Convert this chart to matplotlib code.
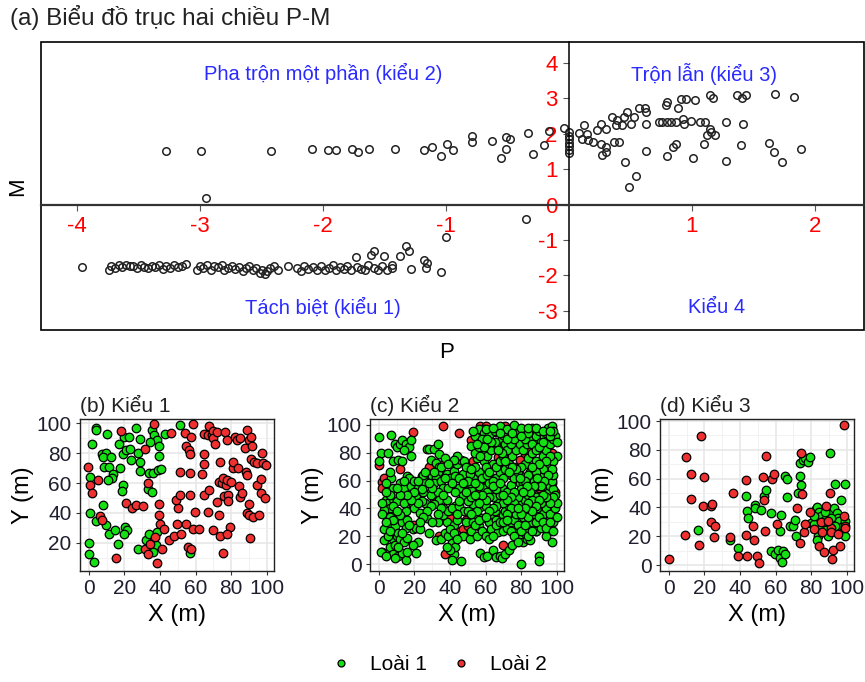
import numpy as np
import matplotlib
matplotlib.use("Agg")
import matplotlib.pyplot as plt
from matplotlib.lines import Line2D
from matplotlib.patches import Rectangle

# ---- panel (a): P-M biplot ----
pm_upper = [(-3.27, 1.52), (-2.99, 1.52), (-2.42, 1.52), (-2.09, 1.58), (-1.96, 1.55),
            (-1.89, 1.55), (-2.95, 0.20), (-1.76, 1.58), (-1.71, 1.49), (-1.62, 1.58),
            (-1.41, 1.58), (-1.18, 1.55), (-1.11, 1.63), (-1.04, 1.38), (-0.99, 1.72),
            (-0.94, 1.55), (-0.79, 1.94), (-0.79, 1.77), (-0.62, 1.80), (-0.55, 1.32),
            (-0.51, 1.92), (-0.51, 1.58), (-0.48, 1.86), (-0.33, 2.03), (-0.29, 1.44),
            (-0.20, 1.69), (-0.16, 2.08), (-0.04, 2.17), (-0.35, -0.42),
            (0.0, 1.45), (0.0, 1.55), (0.0, 1.65), (0.0, 1.75), (0.0, 1.85), (0.0, 1.95),
            (0.0, 2.05)]
pm_right = [(0.08, 2.03), (0.12, 2.25), (0.11, 1.86), (0.15, 2.0), (0.16, 1.83), (0.20, 1.77),
            (0.23, 2.1), (0.26, 2.28), (0.26, 1.72), (0.30, 2.14), (0.30, 1.63), (0.27, 1.41),
            (0.30, 1.49), (0.35, 2.48), (0.37, 1.77), (0.41, 1.77), (0.38, 2.25), (0.39, 2.39),
            (0.43, 2.25), (0.45, 2.48), (0.47, 2.62), (0.46, 1.21), (0.49, 0.51), (0.55, 0.82),
            (0.51, 2.28), (0.53, 2.48), (0.57, 2.73), (0.62, 2.73), (0.63, 2.62), (0.63, 1.52),
            (0.63, 2.28), (0.73, 2.34), (0.76, 2.34), (0.80, 2.34), (0.83, 2.34), (0.87, 2.34),
            (0.79, 2.82), (0.80, 2.90), (0.89, 2.73), (0.91, 2.99), (0.95, 2.99), (1.03, 2.96),
            (0.93, 2.42), (0.94, 2.28), (0.99, 2.37), (0.87, 1.72), (0.85, 1.63), (0.80, 1.38),
            (1.01, 1.32), (1.07, 2.34), (1.11, 2.34), (1.15, 3.10), (1.17, 3.02), (1.15, 2.14),
            (1.16, 2.06), (1.12, 1.97), (1.19, 1.97), (1.10, 1.72), (1.28, 2.34), (1.28, 1.24),
            (1.37, 3.10), (1.41, 3.02), (1.44, 3.10), (1.42, 2.28), (1.40, 1.69), (1.68, 3.13),
            (1.83, 3.04), (1.63, 1.75), (1.67, 1.49), (1.73, 1.21), (1.89, 1.58)]
pm_lower = [(-3.96, -1.75), (-3.74, -1.85), (-3.72, -1.72), (-3.69, -1.78), (-3.66, -1.70),
            (-3.63, -1.76), (-3.60, -1.70), (-3.57, -1.74), (-3.54, -1.72), (-3.51, -1.78),
            (-3.48, -1.70), (-3.45, -1.75), (-3.42, -1.80), (-3.39, -1.72), (-3.36, -1.76),
            (-3.33, -1.70), (-3.30, -1.82), (-3.27, -1.74), (-3.24, -1.78), (-3.21, -1.70),
            (-3.18, -1.76), (-3.14, -1.72), (-3.11, -1.68), (-3.02, -1.86), (-3.00, -1.74),
            (-2.97, -1.78), (-2.94, -1.70), (-2.91, -1.84), (-2.88, -1.72), (-2.85, -1.76),
            (-2.82, -1.70), (-2.80, -1.86), (-2.77, -1.78), (-2.74, -1.72), (-2.71, -1.82),
            (-2.68, -1.76), (-2.65, -1.88), (-2.62, -1.80), (-2.60, -1.72), (-2.57, -1.86),
            (-2.54, -1.78), (-2.51, -1.92), (-2.49, -1.84), (-2.47, -1.96), (-2.45, -1.88),
            (-2.43, -1.80), (-2.40, -1.74), (-2.36, -1.84), (-2.28, -1.74), (-2.21, -1.78),
            (-2.18, -1.88), (-2.15, -1.72), (-2.12, -1.82), (-2.08, -1.76), (-2.05, -1.86),
            (-2.01, -1.74), (-1.98, -1.84), (-1.95, -1.78), (-1.92, -1.70), (-1.89, -1.86),
            (-1.86, -1.76), (-1.83, -1.82), (-1.80, -1.72), (-1.77, -1.86), (-1.73, -1.49),
            (-1.72, -1.76), (-1.69, -1.82), (-1.66, -1.86), (-1.63, -1.70), (-1.61, -1.41),
            (-1.58, -1.30), (-1.58, -1.80), (-1.55, -1.86), (-1.52, -1.74), (-1.50, -1.46),
            (-1.48, -1.86), (-1.44, -1.80), (-1.44, -1.70), (-1.37, -1.44), (-1.32, -1.18),
            (-1.30, -1.32), (-1.28, -1.83), (-1.18, -1.55), (-1.16, -1.80), (-1.15, -1.66),
            (-1.04, -1.91), (-1.00, -0.91)]

p_ticks = [-4, -3, -2, -1, 1, 2]
m_ticks = [-3, -2, -1, 0, 1, 2, 3, 4]
quadrant_labels = [(-2.0, 3.7, "Pha trộn một phần (kiểu 2)"), (1.1, 3.7, "Trộn lẫn (kiểu 3)"),
                   (-2.0, -2.9, "Tách biệt (kiểu 1)"), (1.2, -2.9, "Kiểu 4")]

# ---- panels (b)-(d): point maps, (X, Y) in metres ----
b_loai1 = [(3.8, 96.6), (4, 95.5), (1.9, 85.9), (10.3, 92.8), (19.5, 90.6), (22.6, 90.6),
           (26.3, 96.6), (28.6, 89.3), (35.2, 95.5), (36.5, 92.2), (38, 88.4), (34.6, 87.5),
           (39.5, 84.8), (39.5, 78.1), (42.7, 92.8), (51, 99), (7.5, 79.4), (9.8, 79.9),
           (7.9, 77.2), (12.6, 77.2), (19.2, 79.4), (20.7, 81.7), (22.9, 82.6), (23.9, 75.4),
           (16.9, 86.1), (27.6, 80.3), (28.9, 74.3), (28.6, 68.3), (33.8, 66.9), (36.1, 66.9),
           (38.9, 68.7), (40.4, 69.2), (8.3, 71), (11.3, 70.5), (13.5, 66), (13, 63.1),
           (10.7, 62), (17.3, 69.8), (0.8, 64.2), (19.2, 58.7), (18.8, 54.9), (33.3, 55.8),
           (35.2, 54.2), (7.9, 45.3), (0.4, 40.1), (3.8, 34.7), (9.8, 31.8), (11.3, 26.3),
           (14.5, 28.5), (20.1, 30.7), (21.4, 28.9), (19.5, 25.8), (16.4, 19.6), (32.3, 22.3),
           (33.8, 25.8), (38.3, 27.2), (37.6, 18.4), (36.1, 14), (27.6, 16.2), (0, 20.2),
           (0, 12.4), (2.8, 7), (56.8, 13.3)]
b_loai2 = [(-0.6, 71), (0.8, 58.7), (1.9, 53.5), (5.3, 62), (6.4, 37.9), (7.5, 35.6),
           (15.4, 10.2), (18.2, 95), (20.7, 46.4), (24.4, 43), (26.3, 45.3), (30.5, 44.8),
           (31.4, 82.6), (33.3, 59.8), (36.5, 99.3), (39.5, 45.9), (39.5, 38.5), (40.2, 32.5),
           (42.1, 29.6), (41.2, 16.2), (38, 6.6), (31.4, 16.2), (34.2, 19.6), (33.3, 12.8),
           (37, 24), (45.1, 22.2), (46.4, 93.3), (47.7, 24.5), (49.6, 32.5), (50.2, 43),
           (49.2, 48.6), (51.1, 52), (51.1, 67.6), (52, 26.3), (54.5, 32.5), (53.9, 93.3),
           (54.5, 84.4), (56.4, 81.7), (56.8, 79.4), (57.1, 91), (58.3, 99.3), (56.8, 66.5),
           (56.8, 52), (55.8, 17.3), (57.1, 16.2), (58.3, 29.6), (59.6, 40.8), (62, 29),
           (63.3, 66), (64.7, 79.4), (64.7, 72.7), (64.7, 52), (64.7, 92.8), (67.1, 92.2),
           (67.7, 98.2), (67.7, 55.3), (67.1, 40.8), (69, 92.2), (69.9, 94.4), (69.5, 89.9),
           (70.9, 86.1), (71.8, 93.8), (69.9, 28.5), (72.2, 47.5), (73.3, 60.9), (73.7, 74.1),
           (73.3, 38.5), (73.7, 24.5), (74.6, 59.8), (75.2, 63.1), (75.2, 13.3), (76.5, 93.8),
           (77.4, 88.8), (75.9, 51), (77.1, 58.7), (77.8, 62), (78.4, 52), (78.4, 48.2),
           (79, 30.7), (77.8, 25.8), (79.7, 60.9), (80.8, 69.8), (81.2, 74.3), (82.1, 91),
           (83.1, 88.8), (83.5, 70.3), (84.2, 58), (85, 50.8), (85, 90), (85.9, 53.3),
           (87.8, 83.2), (88.3, 67.6), (88.7, 65.4), (88.7, 95.5), (89.7, 88.8), (89.7, 45.9),
           (88.7, 40.1), (90.2, 38.5), (90.9, 91), (90.9, 76.3), (90.6, 23.5), (91.7, 84.4),
           (92.1, 37.4), (93, 74.3), (94.2, 58.7), (94.5, 73.1), (95.5, 38.5), (96.8, 62.4),
           (96.8, 53.1), (97.4, 80.1), (98, 73.1), (98.7, 49.7), (99.6, 72.1)]

c_loai1 = [(0, 91), (1, 80), (0, 74), (2, 9), (1, 9), (3, 17), (5, 80), (7, 93), (4, 46),
           (5, 44), (6, 40), (3, 39), (6, 34), (7, 30), (5, 27), (3, 25), (8, 47), (9, 49),
           (10, 45), (8, 18), (6, 12), (8, 7), (9, 14), (5, 20), (7, 62), (8, 55), (4, 58),
           (9, 86), (8, 74), (6, 66), (9, 27), (10, 20),
           (10, 84), (12, 86), (13, 89), (15, 86), (17, 84), (18, 89), (14, 82), (11, 75),
           (13, 74), (12, 58), (14, 55), (16, 63), (18, 56), (17, 62), (19, 42), (20, 40),
           (15, 38), (13, 30), (11, 22), (12, 18), (14, 16), (16, 19), (11, 6), (13, 8),
           (15, 3), (16, 9), (19, 25), (18, 78), (20, 60), (17, 48), (14, 44), (12, 35), (16, 32),
           (21, 8), (22, 16), (21, 26), (23, 25), (21, 48), (22, 55), (24, 63), (25, 52),
           (26, 44), (27, 33), (28, 22), (23, 37), (24, 45), (27, 83), (28, 83), (29, 75),
           (30, 63), (26, 59), (29, 50), (22, 44), (25, 64),
           (31, 83), (33, 86), (32, 73), (34, 70), (33, 66), (32, 62), (31, 58), (35, 60),
           (36, 55), (33, 52), (34, 46), (38, 46), (36, 40), (33, 30), (32, 17), (35, 18),
           (37, 22), (39, 20), (38, 30), (36, 35), (39, 38), (34, 79), (37, 76), (35, 70),
           (38, 65), (40, 62), (39, 55), (36, 50), (31, 43),
           (41, 15), (42, 7), (43, 12), (41, 3), (46, 2), (42, 28), (44, 32), (43, 42),
           (41, 40), (45, 42), (47, 50), (45, 55), (48, 58), (42, 67), (44, 72), (46, 75),
           (48, 74), (43, 63), (47, 65), (49, 70), (45, 45), (48, 38), (49, 30), (47, 20),
           (40, 25), (44, 36),
           (51, 18), (52, 24), (53, 30), (55, 20), (56, 27), (54, 36), (57, 41), (55, 48),
           (52, 53), (51, 58), (53, 62), (56, 66), (54, 70), (55, 76), (52, 85), (54, 92),
           (56, 97), (57, 88), (59, 94), (58, 80), (59, 74), (58, 62), (59, 55), (57, 8),
           (59, 5), (53, 43), (50, 45), (55, 38), (58, 33), (51, 65),
           (61, 6), (64, 10), (66, 5), (68, 6), (69, 4), (62, 30), (63, 36), (65, 38),
           (67, 45), (64, 48), (61, 52), (62, 58), (66, 62), (68, 66), (64, 72), (61, 78),
           (63, 82), (66, 86), (69, 90), (62, 93), (65, 96), (68, 99), (70, 93), (63, 25),
           (67, 23), (60, 42), (69, 55), (65, 55), (70, 35), (66, 32), (61, 64),
           (71, 7), (73, 10), (75, 14), (70, 24), (72, 26), (74, 30), (76, 32), (78, 28),
           (71, 38), (73, 42), (75, 46), (77, 50), (79, 44), (72, 52), (74, 57), (76, 62),
           (78, 66), (71, 68), (73, 72), (75, 78), (77, 82), (79, 86), (71, 86), (74, 90),
           (77, 94), (79, 97), (72, 97), (76, 100), (80, 0), (78, 22), (79, 18), (77, 36),
           (79, 58), (70, 62),
           (81, 16), (83, 18), (85, 17), (82, 22), (84, 26), (86, 30), (88, 24), (81, 34),
           (83, 38), (85, 42), (87, 36), (89, 40), (82, 46), (84, 50), (86, 54), (88, 48),
           (81, 58), (83, 62), (85, 66), (87, 60), (89, 68), (82, 72), (84, 76), (86, 80),
           (88, 74), (81, 82), (83, 86), (85, 90), (87, 94), (89, 88), (82, 96), (86, 98),
           (88, 92), (90, 6), (90, 2), (84, 34), (89, 56), (80, 70), (86, 46),
           (91, 26), (93, 30), (95, 24), (97, 16), (92, 36), (94, 40), (96, 36), (98, 30),
           (91, 44), (93, 48), (95, 52), (97, 46), (99, 40), (92, 56), (94, 60), (96, 56),
           (98, 54), (91, 64), (93, 68), (95, 72), (97, 60), (99, 50), (92, 78), (94, 82),
           (96, 86), (98, 90), (91, 88), (93, 92), (95, 98), (97, 99), (99, 92), (90, 96),
           (96, 70), (98, 64), (94, 20),
           (50, 60), (52, 68), (54, 80), (56, 84), (58, 90), (60, 86), (60, 70), (62, 66),
           (64, 60), (66, 70), (68, 74), (70, 78), (72, 82), (74, 86), (76, 90), (78, 94),
           (80, 98), (82, 90), (84, 94), (86, 86), (88, 82), (90, 84), (92, 88), (94, 94),
           (96, 92), (98, 96), (100, 88), (100, 78), (98, 74), (96, 78), (94, 74), (92, 68),
           (90, 72), (88, 66), (86, 70), (84, 64), (82, 60), (80, 54), (78, 48), (76, 44),
           (74, 40), (72, 36), (70, 44), (68, 50), (66, 54), (64, 56), (62, 48), (60, 46),
           (58, 50), (56, 56), (54, 58), (52, 48), (50, 38), (52, 36), (54, 28), (56, 32),
           (58, 24), (60, 20), (62, 18), (64, 20), (66, 28), (68, 30), (70, 30), (72, 32),
           (74, 24), (76, 20), (78, 16), (80, 24), (82, 28), (84, 20), (86, 24), (88, 30),
           (90, 34), (92, 30), (94, 26), (96, 30), (98, 24), (100, 34), (100, 44), (98, 48),
           (96, 44), (94, 48), (92, 50), (90, 46), (88, 42), (86, 38), (84, 44), (82, 40),
           (80, 36), (78, 40), (76, 52), (74, 48), (72, 46), (70, 50), (68, 58), (66, 42),
           (64, 40), (62, 38), (60, 34), (56, 44), (54, 50), (97, 68), (95, 64), (93, 60),
           (91, 56), (89, 62), (87, 56), (85, 52), (83, 56), (81, 52), (79, 62), (77, 68),
           (75, 70), (73, 66), (71, 74), (69, 80), (67, 82), (65, 88), (63, 88), (61, 90),
           (59, 84), (57, 78), (55, 86), (53, 96), (60, 97), (64, 98), (68, 94), (72, 90),
           (75, 94), (80, 92), (84, 98), (88, 98), (92, 96), (96, 96), (41, 58), (43, 52),
           (45, 62), (47, 58), (49, 52), (44, 78), (42, 75), (39, 72), (37, 62), (35, 40),
           (33, 36), (31, 66), (30, 55), (28, 58), (26, 66), (24, 54), (22, 60), (20, 52),
           (18, 46), (16, 50), (14, 60), (12, 50), (10, 55), (8, 42), (6, 50), (4, 52),
           (2, 44), (10, 38), (8, 32), (6, 24), (4, 30), (2, 36), (15, 26), (17, 28),
           (19, 14), (13, 22), (11, 12), (9, 4), (4, 6), (42, 22), (44, 18), (40, 10),
           (38, 12), (30, 30), (29, 42), (27, 38), (25, 34), (23, 30)]
c_loai2 = [(0, 71), (2, 59), (2, 55), (3, 62), (7, 36), (12, 68), (19, 95), (20, 28), (36, 99),
           (45, 94), (28, 70), (33, 67), (35, 71), (31, 47), (38, 35), (40, 33), (37, 7),
           (34, 20), (45, 23), (47, 25), (49, 32), (50, 27), (53, 33), (55, 55), (57, 53),
           (53, 74), (57, 99), (60, 99), (62, 30), (64, 27), (66, 33), (68, 35), (70, 14),
           (72, 25), (75, 38), (74, 64), (76, 70), (73, 76), (78, 60), (80, 63), (82, 78),
           (84, 84), (86, 95), (88, 88), (91, 73), (95, 83), (97, 80), (90, 55), (92, 45),
           (88, 24), (85, 40), (84, 58), (80, 46), (90, 27), (99, 52), (66, 95), (52, 89),
           (51, 50), (44, 38), (63, 62), (67, 77), (71, 69), (79, 75), (87, 65), (93, 63),
           (97, 58), (83, 53), (89, 57), (61, 57), (59, 97), (71, 99), (91, 93), (95, 87)]

d_loai1 = [(16.3, 24.2), (34.1, 17.1), (39.1, 12), (43.4, 47.7), (44, 37.3), (44.4, 32.7),
           (48.1, 41.9), (48.5, 39.6), (51.9, 38.5), (53.7, 47.7), (54.7, 52.3), (57.1, 36.2),
           (57.5, 10.1), (59.7, 7.4), (61.2, 10.8), (62.3, 23.5), (63.1, 35), (62.7, 5.1),
           (63.7, 2.1), (64, 9.7), (65, 7.4), (65.5, 61.5), (66.5, 59.7), (66.5, 47.2),
           (67.8, 27), (69.7, 27), (70.6, 31.6), (71.5, 20.5), (72.5, 50), (73.4, 62),
           (74, 55.8), (73.4, 70.7), (75.3, 73), (76.2, 74.2), (78.1, 71.9), (79, 74.9),
           (90.3, 78.1), (79.6, 29.3), (81.5, 28.8), (82.4, 38.9), (83.3, 40.3), (84.3, 36.6),
           (85.2, 33.9), (83.9, 20), (83.1, 17.3), (86, 27), (87.5, 31.6), (88.4, 24.7),
           (89.3, 20.5), (91.6, 36.6), (92.7, 39.6), (93.4, 56.5), (94.6, 36.2), (95, 32.7),
           (95.3, 30.4), (95.9, 25.8), (96.8, 45.4), (97.8, 27), (99.1, 56.5), (99.1, 20.5),
           (98.7, 30.4), (93.4, 27), (90.8, 32.7), (87.5, 36.6), (81.3, 34.3)]
d_loai2 = [(0, 3.9), (8.8, 20.7), (9.7, 74.9), (12.2, 63.1), (12.2, 46.1), (18.2, 89.6),
           (19.1, 40.8), (20, 61.1), (16.7, 13.8), (23.8, 40.8), (24.2, 42.6), (23.4, 30),
           (25.7, 27), (25.3, 19.6), (34.1, 19.4), (35.9, 50), (39.1, 6.2), (43.4, 59.2),
           (43.4, 21.2), (43.8, 6.2), (47.2, 27.4), (47.8, 17.1), (49.6, 6.2), (50.6, 1.2),
           (54.1, 23.5), (53.7, 44.9), (52.8, 60.8), (54.7, 75.8), (57.9, 59.7), (59, 63.1),
           (60.9, 28.8), (72.1, 39.6), (74.3, 78.1), (73.9, 15), (74.7, 49.5), (75.8, 22.8),
           (76.6, 28.8), (79, 36.6), (81.5, 25.1), (84.1, 13.1), (86, 22.8), (87.1, 9),
           (88.4, 40.8), (90.3, 50), (90.8, 25.8), (90.8, 22.8), (91.6, 4.4), (92.1, 10.8),
           (95, 21.9), (96.4, 13.1), (98.3, 97.2), (98.3, 34.3), (99.1, 27.4), (98.7, 25.8),
           (85.6, 29.7), (89.3, 30.4)]

map_panels = [("(b) Kiểu 1", b_loai1, b_loai2, (1.3, 102.7), [20, 40, 60, 80, 100]),
              ("(c) Kiểu 2", c_loai1, c_loai2, (-5, 104.3), [0, 20, 40, 60, 80, 100]),
              ("(d) Kiểu 3", d_loai1, d_loai2, (-4.1, 101.4), [0, 20, 40, 60, 80, 100])]
x_ticks = [0, 20, 40, 60, 80, 100]
species = ["Loài 1", "Loài 2"]

GREEN = "#14e014"
RED = "#ee3030"
plt.rcParams["font.family"] = ["Liberation Sans", "DejaVu Sans"]

fig = plt.figure(figsize=(8.65, 6.82), dpi=100)

# ---------------- panel (a) ----------------
ax = fig.add_axes([41 / 865, 1 - 330 / 682, 823 / 865, 288 / 682])
for pts in (pm_upper, pm_right, pm_lower):
    arr = np.array(pts)
    ax.plot(arr[:, 0], arr[:, 1], "o", mfc="none", mec="#222222", mew=1.1, ms=5.4)
ax.set_xlim(-4.29, 2.40)
ax.set_ylim(-3.54, 4.59)
ax.spines["left"].set_position(("data", 0))
ax.spines["bottom"].set_position(("data", 0))
ax.spines["top"].set_visible(False)
ax.spines["right"].set_visible(False)
ax.spines["bottom"].set_linewidth(1.6)
ax.spines["bottom"].set_color("#333333")
ax.spines["left"].set_linewidth(1.1)
ax.add_patch(Rectangle((0, 0), 1, 1, transform=ax.transAxes, fill=False,
                       ec="black", lw=1.2, clip_on=False))
ax.set_xticks(p_ticks)
ax.set_yticks(m_ticks)
ax.set_xticklabels([str(t) for t in p_ticks])
ax.set_yticklabels([str(t) for t in m_ticks])
ax.tick_params(axis="both", colors="#555555", length=4, width=0.8, labelcolor="red",
               labelsize=16)
ax.tick_params(axis="x", pad=4)
ax.tick_params(axis="y", pad=4)
for qx, qy, txt in quadrant_labels:
    ax.text(qx, qy, txt, color="#2a2aff", fontsize=14.5, ha="center", va="center")
fig.text(10 / 865, 1 - 18 / 682, "(a) Biểu đồ trục hai chiều P-M", fontsize=17.5,
         ha="left", va="center", color="#222222")
fig.text(18 / 865, 1 - 187 / 682, "M", fontsize=16, rotation=90, ha="center", va="center")
fig.text(447 / 865, 1 - 352 / 682, "P", fontsize=16, ha="center", va="center")

# ---------------- panels (b)-(d) ----------------
lefts = [80, 370, 660]
for left, (title, sp1, sp2, ylim, yt) in zip(lefts, map_panels):
    axm = fig.add_axes([left / 865, 1 - 571 / 682, 194 / 865, 152 / 682])
    a1 = np.array(sp1)
    a2 = np.array(sp2)
    if title.startswith("(c)"):
        axm.scatter(a2[:, 0], a2[:, 1], s=38, c=RED, edgecolors="black", linewidths=0.9, zorder=3)
        axm.scatter(a1[:, 0], a1[:, 1], s=38, c=GREEN, edgecolors="black", linewidths=0.9, zorder=3)
    else:
        axm.scatter(a1[:, 0], a1[:, 1], s=38, c=GREEN, edgecolors="black", linewidths=0.9, zorder=3)
        axm.scatter(a2[:, 0], a2[:, 1], s=38, c=RED, edgecolors="black", linewidths=0.9, zorder=3)
    axm.set_xlim(-5, 104)
    axm.set_ylim(*ylim)
    axm.set_xticks(x_ticks)
    axm.set_yticks(yt)
    axm.set_xticks([10, 30, 50, 70, 90], minor=True)
    axm.set_yticks([v for v in [10, 30, 50, 70, 90] if ylim[0] < v < ylim[1]], minor=True)
    axm.grid(True, which="major", color="#e6e6e6", lw=1.1, zorder=0)
    axm.grid(True, which="minor", color="#f0f0f0", lw=0.6, zorder=0)
    axm.set_axisbelow(True)
    axm.tick_params(which="major", length=3, width=0.8, color="#333333", labelsize=15,
                    labelcolor="#1f1f2f", pad=3)
    axm.tick_params(which="minor", length=0)
    for s in axm.spines.values():
        s.set_color("#222222")
        s.set_linewidth(1.0)
    axm.set_xlabel("X (m)", fontsize=17, labelpad=4)
    axm.set_ylabel("Y (m)", fontsize=17, labelpad=2)
    axm.set_title(title, fontsize=15, loc="left", pad=5, color="#222222")

handles = [Line2D([], [], ls="none", marker="o", ms=5, mfc=GREEN, mec="black", mew=0.9),
           Line2D([], [], ls="none", marker="o", ms=5, mfc=RED, mec="black", mew=0.9)]
fig.legend(handles, species, loc="center", bbox_to_anchor=(0.506, 1 - 665 / 682), ncol=2,
           frameon=False, fontsize=15, handlelength=1.2, handletextpad=0.8, columnspacing=1.0)

fig.savefig("out.png", dpi=100)
